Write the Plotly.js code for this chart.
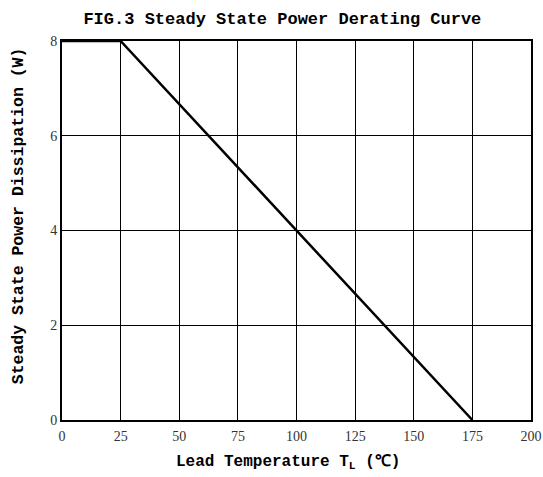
<!DOCTYPE html>
<html><head><meta charset="utf-8">
<script src="https://cdn.plot.ly/plotly-3.0.1.min.js"></script>
<style>html,body{margin:0;padding:0;background:#fff}</style>
</head><body>
<div id="chart" style="width:543px;height:477px"></div>
<script>
const temperature = [0, 25, 175];
const power = [8, 8, 0];
const xTicks = [0, 25, 50, 75, 100, 125, 150, 175, 200];
const yTicks = [0, 2, 4, 6, 8];

const titleFont = {family: '"Liberation Mono", "DejaVu Sans Mono", monospace', size: 16, color: '#000', weight: 'bold'};
const tickFont = {family: '"Liberation Serif", "DejaVu Serif", serif', size: 14, color: '#333'};

Plotly.newPlot('chart', [{
  x: temperature, y: power, mode: 'lines', type: 'scatter',
  line: {color: '#000', width: 2.5}, hoverinfo: 'skip', cliponaxis: false
}], {
  width: 543, height: 477,
  margin: {l: 62, r: 12, t: 41, b: 57},
  paper_bgcolor: '#fff', plot_bgcolor: '#fff',
  showlegend: false,
  title: {text: 'FIG.3 Steady State Power Derating Curve', font: Object.assign({}, titleFont, {size: 17}), x: 0.52, xanchor: 'center', y: 0.962, yanchor: 'middle'},
  annotations: [
    {text: 'Lead Temperature T<sub>L</sub> (℃)', font: titleFont, xref: 'paper', yref: 'paper',
     x: 0.481, y: -0.111, xanchor: 'center', yanchor: 'middle', showarrow: false},
    {text: 'Steady State Power Dissipation (W)', font: Object.assign({}, titleFont, {size: 16.5}), xref: 'paper', yref: 'paper',
     x: -0.094, y: 0.54, xanchor: 'center', yanchor: 'middle', textangle: -90, showarrow: false}
  ],
  xaxis: {
    range: [0, 200], tickvals: xTicks, ticktext: xTicks.map(String),
    showgrid: true, gridcolor: '#000', gridwidth: 1,
    showline: true, linecolor: '#000', linewidth: 2, mirror: true,
    ticks: '', zeroline: false, tickfont: tickFont, ticklabelstandoff: 2
  },
  yaxis: {
    range: [0, 8], tickvals: yTicks, ticktext: yTicks.map(String),
    showgrid: true, gridcolor: '#000', gridwidth: 1,
    showline: true, linecolor: '#000', linewidth: 2, mirror: true,
    ticks: '', zeroline: false, tickfont: tickFont
  }
}, {staticPlot: true});
</script>
</body></html>
